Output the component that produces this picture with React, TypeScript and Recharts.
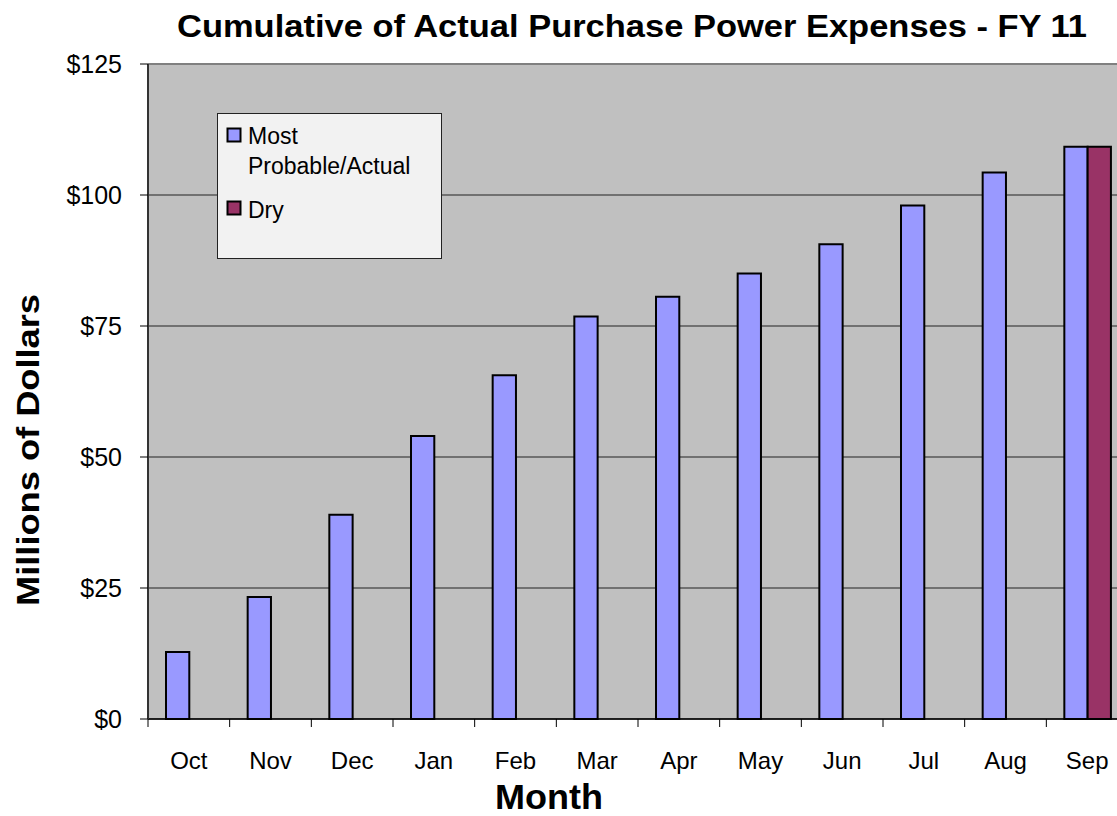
import React from 'react';
import { BarChart, Bar, XAxis, YAxis, CartesianGrid, Legend, ReferenceLine } from 'recharts';

const months = ['Oct', 'Nov', 'Dec', 'Jan', 'Feb', 'Mar', 'Apr', 'May', 'Jun', 'Jul', 'Aug', 'Sep'];
const mostProbableActual = [12.8, 23.3, 39, 54, 65.6, 76.8, 80.6, 85, 90.6, 98, 104.3, 109.2];
const dry: (number | null)[] = [null, null, null, null, null, null, null, null, null, null, null, 109.2];
const yTicks = [0, 25, 50, 75, 100, 125];

const data = months.map((m, i) => ({ month: m, actual: mostProbableActual[i], dry: dry[i] }));

const FONT = '"Liberation Sans", Arial, sans-serif';
const CHART_W = 1140;
const CHART_H = 816;
const MARGIN = { top: 64, right: 12, bottom: 0, left: 0 };
const X_AXIS_H = 97;
const Y_AXIS_W = 148;
const BAND = (CHART_W - MARGIN.left - MARGIN.right - Y_AXIS_W) / months.length;

const XTick = (props: any) => {
  const { x, y, payload } = props;
  const left = x - BAND / 2;
  return (
    <g>
      <line x1={left} y1={y - 8} x2={left} y2={y} stroke="#000" strokeWidth={1} />
      <text
        x={x}
        y={y + 42}
        textAnchor="middle"
        fontFamily={FONT}
        fontSize={24}
        fill="#000"
      >
        {payload.value}
      </text>
    </g>
  );
};

const YTick = (props: any) => {
  const { y, payload } = props;
  return (
    <text x={122} y={y} dy="0.355em" textAnchor="end" fontFamily={FONT} fontSize={25} fill="#000">
      {'$' + payload.value}
    </text>
  );
};

const LegendBox = () => (
  <div
    style={{
      width: 225,
      height: 146,
      background: '#F2F2F2',
      border: '1px solid #222',
      boxSizing: 'border-box',
      position: 'relative',
    }}
  >
    <svg width={225} height={146} style={{ position: 'absolute', left: 0, top: 0 }}>
      <rect x={9.5} y={14.5} width={13} height={13} fill="#9999FF" stroke="#000" strokeWidth={2} />
      <text x={30} y={30} fontFamily={FONT} fontSize={23} fill="#000">Most</text>
      <text x={30} y={60} fontFamily={FONT} fontSize={23} fill="#000">Probable/Actual</text>
      <rect x={9.5} y={87.5} width={13} height={13} fill="#993366" stroke="#000" strokeWidth={2} />
      <text x={30} y={104} fontFamily={FONT} fontSize={23} fill="#000">Dry</text>
    </svg>
  </div>
);

export default function App() {
  return (
    <div
      style={{
        position: 'absolute',
        left: 0,
        top: 0,
        width: 1117,
        height: 816,
        overflow: 'hidden',
        background: '#fff',
      }}
    >
      <BarChart width={CHART_W} height={CHART_H} data={data} margin={MARGIN} barGap={0} barSize={23.3}>
        <CartesianGrid vertical={false} fill="#C0C0C0" stroke="#222" strokeWidth={1} />
        <ReferenceLine y={125} stroke="#808080" strokeWidth={2} />
        <XAxis
          dataKey="month"
          tick={<XTick />}
          tickLine={false}
          axisLine={{ stroke: '#000', strokeWidth: 1.5 }}
          interval={0}
          height={X_AXIS_H}
        />
        <YAxis
          domain={[0, 125]}
          ticks={yTicks}
          width={Y_AXIS_W}
          tick={<YTick />}
          tickSize={8}
          tickLine={{ stroke: '#000' }}
          axisLine={{ stroke: '#333', strokeWidth: 2 }}
          interval={0}
        />
        <Legend
          layout="horizontal"
          verticalAlign="middle"
          align="center"
          content={() => <LegendBox />}
          wrapperStyle={{ position: 'absolute', left: 217, top: 113, width: 225, height: 146 }}
        />
        <Bar dataKey="actual" name="Most Probable/Actual" fill="#9999FF" stroke="#000" strokeWidth={2} isAnimationActive={false} />
        <Bar dataKey="dry" name="Dry" fill="#993366" stroke="#000" strokeWidth={2} isAnimationActive={false} />
      </BarChart>
      <svg
        width={1117}
        height={816}
        style={{ position: 'absolute', left: 0, top: 0, pointerEvents: 'none' }}
      >
        <text x={632} y={37} textAnchor="middle" fontFamily={FONT} fontWeight="bold" fontSize={32}
          textLength={910} lengthAdjust="spacingAndGlyphs" fill="#000">
          Cumulative of Actual Purchase Power Expenses - FY 11
        </text>
        <text transform="translate(39,450) rotate(-90)" x={0} y={0} textAnchor="middle" fontFamily={FONT}
          fontWeight="bold" fontSize={32} textLength={312} lengthAdjust="spacingAndGlyphs" fill="#000">
          Millions of Dollars
        </text>
        <text x={549} y={809} textAnchor="middle" fontFamily={FONT} fontWeight="bold" fontSize={35}
          textLength={108} lengthAdjust="spacingAndGlyphs" fill="#000">
          Month
        </text>
      </svg>
    </div>
  );
}
